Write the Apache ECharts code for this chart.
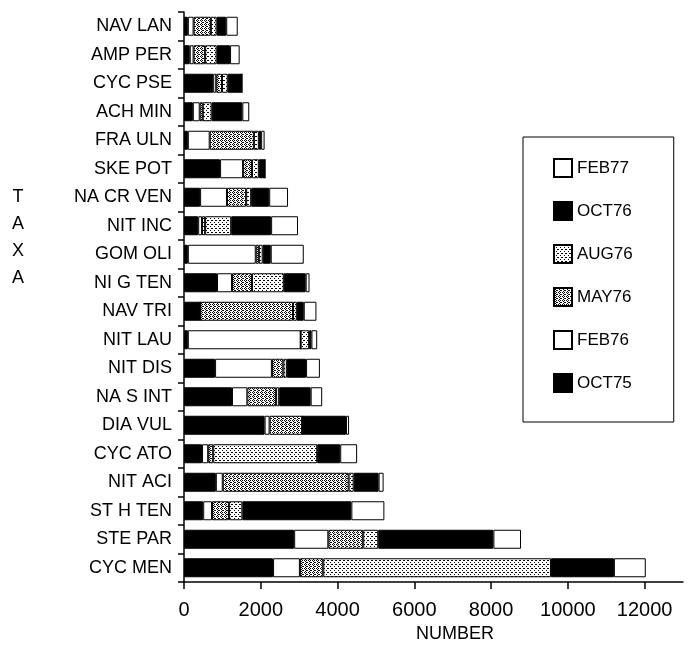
<!DOCTYPE html>
<html>
<head>
<meta charset="utf-8">
<script src="https://cdn.jsdelivr.net/npm/echarts@6/dist/echarts.min.js"></script>
<style>
  html, body { margin: 0; padding: 0; background: #fff; }
  #chart { width: 692px; height: 662px; }
</style>
</head>
<body>
<div id="chart"></div>
<script>
// taxa, top to bottom as printed
const taxa = ['NAV LAN', 'AMP PER', 'CYC PSE', 'ACH MIN', 'FRA ULN', 'SKE POT', 'NA CR VEN',
  'NIT INC', 'GOM OLI', 'NI G TEN', 'NAV TRI', 'NIT LAU', 'NIT DIS', 'NA S INT', 'DIA VUL',
  'CYC ATO', 'NIT ACI', 'ST H TEN', 'STE PAR', 'CYC MEN']

const oct75 = [100, 150, 760, 230, 100, 940, 420, 370, 100, 860, 420, 100, 810, 1250, 2100, 470, 830, 500, 2870, 2320]
const feb76 = [150, 100, 80, 180, 570, 600, 700, 100, 1770, 390, 0, 2940, 1480, 400, 130, 160, 180, 230, 890, 700]
const may76 = [450, 300, 150, 80, 1150, 230, 500, 80, 80, 520, 2420, 0, 300, 750, 850, 130, 3280, 440, 910, 610]
const aug76 = [150, 300, 150, 230, 130, 180, 130, 680, 100, 830, 100, 220, 90, 80, 0, 2710, 130, 350, 390, 5930]
const oct76 = [250, 350, 370, 800, 60, 160, 470, 1040, 210, 570, 180, 60, 500, 820, 1140, 600, 650, 2840, 3000, 1640]
const feb77 = [300, 250, 0, 180, 90, 0, 490, 700, 860, 100, 330, 150, 360, 300, 80, 440, 130, 860, 720, 830]

const xTicks = [0, 2000, 4000, 6000, 8000, 10000, 12000]

// stipple fills
function stipple (dots) {
  const c = document.createElement('canvas')
  c.width = 4
  c.height = 4
  const ctx = c.getContext('2d')
  ctx.fillStyle = '#fff'
  ctx.fillRect(0, 0, 4, 4)
  ctx.fillStyle = '#000'
  dots.forEach(([x, y]) => ctx.fillRect(x, y, 1, 1))
  return { image: c, repeat: 'repeat' }
}
const dense = stipple([[0, 0], [2, 0], [1, 1], [3, 2], [1, 3], [2, 2]])
const light = stipple([[0, 0], [2, 2], [3, 0]])

const font = 'Liberation Sans, Arial, sans-serif'

function bar (name, data, color) {
  return {
    name,
    type: 'bar',
    stack: 'all',
    barWidth: 19,
    data,
    itemStyle: { color, borderColor: '#000', borderWidth: 1 }
  }
}

const chart = echarts.init(document.getElementById('chart'), null, { renderer: 'canvas' })
chart.setOption({
  animation: false,
  backgroundColor: '#fff',
  textStyle: { fontFamily: font, color: '#000' },
  grid: { left: 184, right: 9, top: 12, bottom: 80 },
  xAxis: {
    type: 'value',
    min: 0,
    max: 13000,
    interval: 2000,
    axisLine: { show: true, lineStyle: { color: '#000', width: 1.5 } },
    axisTick: { show: true, length: 7, customValues: xTicks, lineStyle: { color: '#000', width: 1.5 } },
    axisLabel: {
      customValues: xTicks,
      formatter: v => String(v),
      color: '#000',
      fontSize: 20,
      margin: 18,
      fontFamily: font
    },
    splitLine: { show: false }
  },
  yAxis: {
    type: 'category',
    inverse: true,
    data: taxa,
    axisLine: { show: true, lineStyle: { color: '#000', width: 1.5 } },
    axisTick: { show: true, length: 6, lineStyle: { color: '#000', width: 1.5 } },
    axisLabel: { color: '#000', fontSize: 18, margin: 12, fontFamily: font }
  },
  legend: {
    orient: 'vertical',
    left: 523,
    top: 137,
    data: ['FEB77', 'OCT76', 'AUG76', 'MAY76', 'FEB76', 'OCT75'],
    itemWidth: 18,
    itemHeight: 18,
    itemGap: 23,
    icon: 'rect',
    borderColor: '#000',
    borderWidth: 1,
    padding: [21, 41, 29, 30],
    textStyle: { fontSize: 17, color: '#000', fontFamily: font }
  },
  graphic: [
    {
      type: 'text',
      left: 12,
      top: 184,
      style: { text: 'T\nA\nX\nA', fontSize: 18, lineHeight: 27, fill: '#000', font: '18px ' + font, textAlign: 'center' }
    },
    {
      type: 'text',
      left: 416,
      top: 625,
      style: { text: 'NUMBER', fill: '#000', font: '18px ' + font }
    }
  ],
  series: [
    bar('OCT75', oct75, '#000'),
    bar('FEB76', feb76, '#fff'),
    bar('MAY76', may76, dense),
    bar('AUG76', aug76, light),
    bar('OCT76', oct76, '#000'),
    bar('FEB77', feb77, '#fff')
  ]
})
</script>
</body>
</html>
